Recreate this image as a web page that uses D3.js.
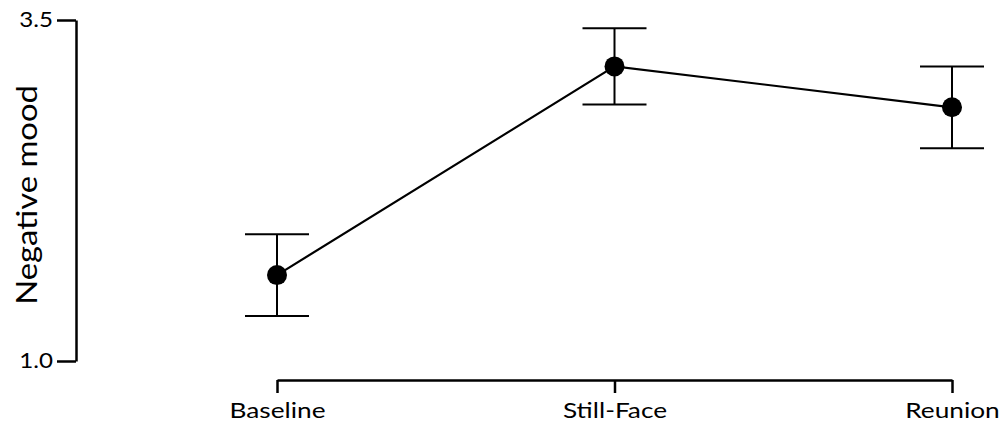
<!DOCTYPE html>
<html>
<head>
<meta charset="utf-8">
<script src="https://cdn.jsdelivr.net/npm/d3@7"></script>
<style>
  html, body { margin: 0; padding: 0; background: #fff; }
  svg { display: block; }
  text { font-family: Lato, "Open Sans", sans-serif; fill: #000; }
</style>
</head>
<body>
<svg id="chart" width="1005" height="430"></svg>
<script>
// Mean negative mood across the three phases, with error bar half-widths
const phases = ["Baseline", "Still-Face", "Reunion"];
const meanMood = [1.63, 3.16, 2.86];
const errMood = [0.30, 0.28, 0.30];
const yTicks = [1.0, 3.5];

const svg = d3.select("#chart");
const wide = 1.15; // horizontal stretch applied to the tick lettering

const x = d3.scalePoint().domain(phases).range([277, 952]).padding(0);
const y = d3.scaleLinear().domain([1.0, 3.5]).range([361, 20]);

const rows = phases.map((p, i) => ({ phase: p, mean: meanMood[i], err: errMood[i] }));

// Y axis
const yTickLen = 19, yPad = 4;
const yAxis = svg.append("g")
  .attr("transform", "translate(76,0)")
  .call(d3.axisLeft(y).tickValues(yTicks).tickFormat(d3.format(".1f"))
    .tickSize(yTickLen).tickSizeOuter(0).tickPadding(yPad));
yAxis.select(".domain").attr("stroke", "#000").attr("stroke-width", 2.5);
yAxis.selectAll(".tick line").attr("stroke", "#000").attr("stroke-width", 2.5);
yAxis.selectAll(".tick text")
  .attr("font-size", 21).attr("font-family", "Lato, sans-serif").attr("fill", "#000")
  .attr("transform", `scale(${wide},1)`)
  .attr("x", -(yTickLen + yPad) / wide);

// X axis
const xAxis = svg.append("g")
  .attr("transform", "translate(0,380)")
  .call(d3.axisBottom(x).tickSize(13).tickSizeOuter(0).tickPadding(10));
xAxis.select(".domain").attr("stroke", "#000").attr("stroke-width", 2.5);
xAxis.selectAll(".tick line").attr("stroke", "#000").attr("stroke-width", 2.5);
xAxis.selectAll(".tick text")
  .attr("font-size", 21).attr("font-family", "Lato, sans-serif").attr("fill", "#000")
  .attr("transform", "scale(1.25,1)");

// Y axis title
svg.append("text")
  .attr("transform", `translate(37,195) rotate(-90) scale(1.17,1)`)
  .attr("text-anchor", "middle")
  .attr("font-family", "'Liberation Sans', Arial, sans-serif")
  .attr("font-size", 28)
  .text("Negative mood");

// Error bars
const eb = svg.append("g").attr("stroke", "#000").attr("stroke-width", 2);
const capHalf = 32;
eb.selectAll("line.v").data(rows).join("line").attr("class", "v")
  .attr("x1", d => x(d.phase)).attr("x2", d => x(d.phase))
  .attr("y1", d => y(d.mean + d.err)).attr("y2", d => y(d.mean - d.err));
eb.selectAll("line.top").data(rows).join("line").attr("class", "top")
  .attr("x1", d => x(d.phase) - capHalf).attr("x2", d => x(d.phase) + capHalf)
  .attr("y1", d => y(d.mean + d.err)).attr("y2", d => y(d.mean + d.err));
eb.selectAll("line.bot").data(rows).join("line").attr("class", "bot")
  .attr("x1", d => x(d.phase) - capHalf).attr("x2", d => x(d.phase) + capHalf)
  .attr("y1", d => y(d.mean - d.err)).attr("y2", d => y(d.mean - d.err));

// Connecting line
svg.append("path")
  .datum(rows)
  .attr("fill", "none")
  .attr("stroke", "#000")
  .attr("stroke-width", 2.2)
  .attr("d", d3.line().x(d => x(d.phase)).y(d => y(d.mean)));

// Points
svg.append("g").selectAll("circle").data(rows).join("circle")
  .attr("cx", d => x(d.phase))
  .attr("cy", d => y(d.mean))
  .attr("r", 10)
  .attr("fill", "#000");
</script>
</body>
</html>
